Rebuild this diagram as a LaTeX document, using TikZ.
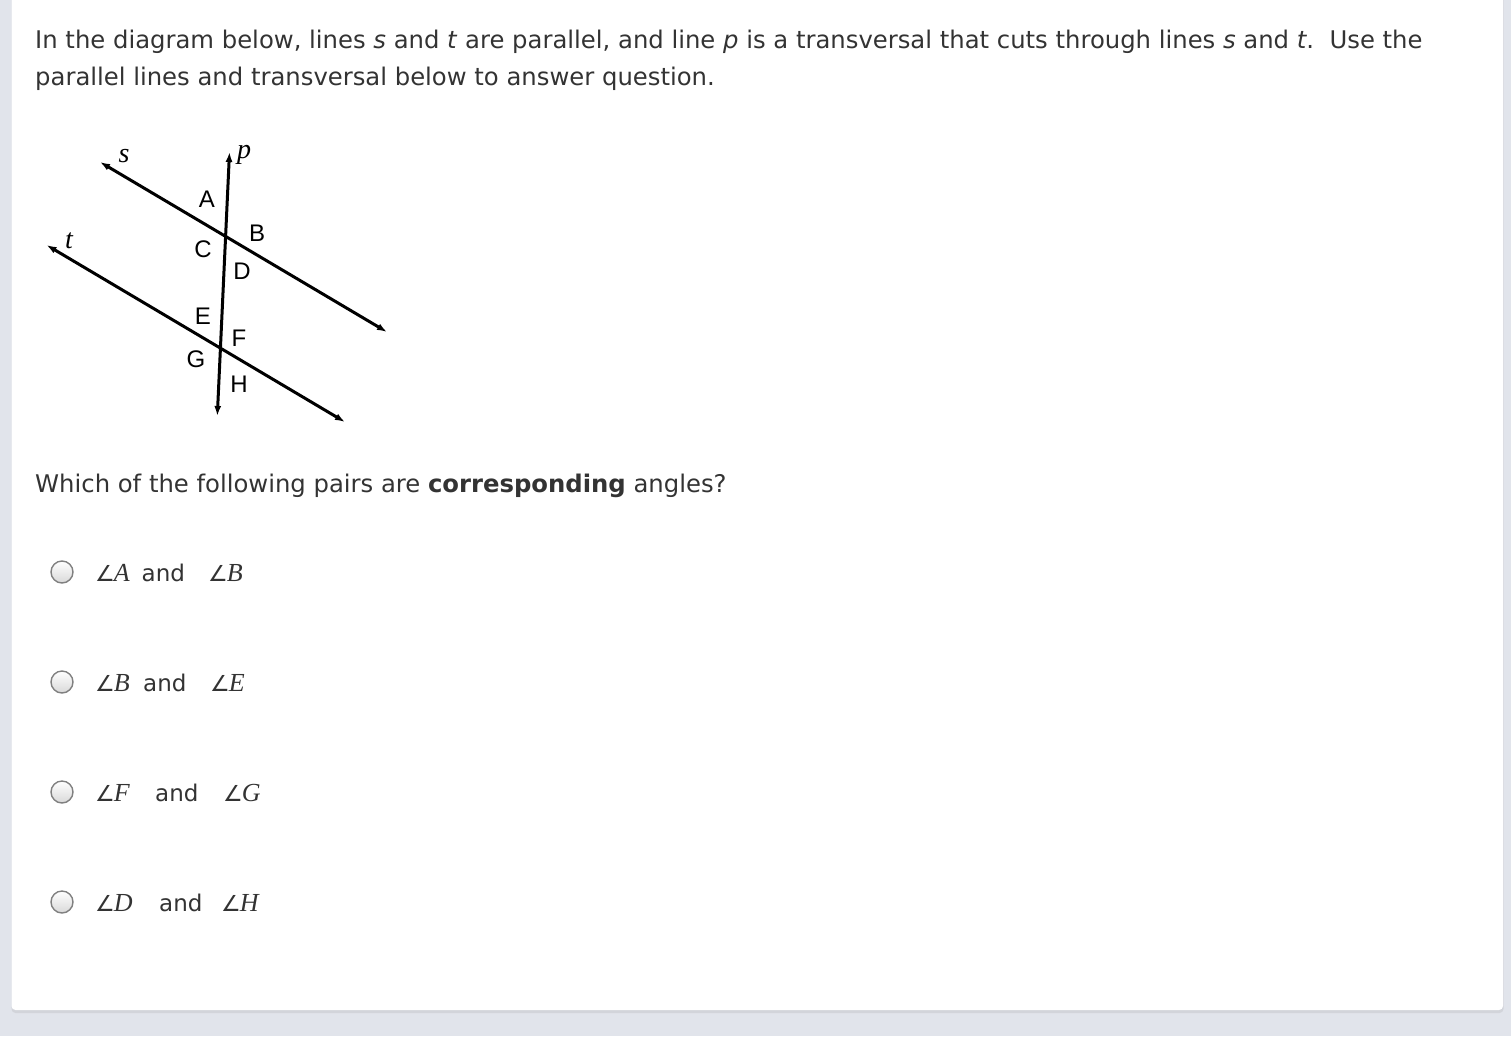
\documentclass[tikz,border=0pt]{standalone}
\usepackage{fontspec}
\usetikzlibrary{arrows.meta,shadings}
\setmainfont{DejaVu Sans}
\newfontfamily\symfont{DejaVu Sans}
\newfontfamily\lblfont{Liberation Sans}
\newfontfamily\serifit{Liberation Serif}[UprightFont=*,ItalicFont=* Italic]
\definecolor{pagebg}{RGB}{225,228,235}
\definecolor{txt}{RGB}{51,51,51}
\definecolor{shadowc}{RGB}{210,212,218}
\definecolor{radioedge}{RGB}{128,128,128}
\tikzset{
  body/.style={anchor=base west, inner sep=0pt, text=txt, font=\fontsize{24.3}{24.3}\selectfont},
  andtxt/.style={anchor=base west, inner sep=0pt, text=txt, font=\fontsize{23}{23}\selectfont},
  lbl/.style={inner sep=0pt, text=black, font=\lblfont\fontsize{24}{24}\selectfont},
  varlbl/.style={inner sep=0pt, text=black, font=\serifit\itshape\fontsize{28}{28}\selectfont},
  geoline/.style={line width=3pt, black, {Latex[length=10pt,width=7pt]}-{Latex[length=10pt,width=7pt]}},
  radio/.style={circle, minimum size=22pt, inner sep=0pt, draw=radioedge, line width=1.4pt, top color=white, bottom color=black!15},
  angtxt/.style={anchor=base west, inner sep=0pt, text=txt, font=\fontsize{26}{26}\selectfont}
}
\newcommand{\angl}[1]{{\symfont\fontsize{22}{22}\selectfont ∠}\kern-1pt{\serifit\itshape #1}}
\begin{document}
\begin{tikzpicture}[x=1pt,y=-1pt]
\useasboundingbox (0,0) rectangle (1511,1036);
\fill[pagebg] (0,0) rectangle (1511,1036);
\fill[shadowc, rounded corners=4pt] (11.5,-10) rectangle (1503.5,1013);
\fill[white, rounded corners=4pt] (11.5,-10) rectangle (1503,1010);

% header text
\node[body] (l1) at (35,48.5) {In the diagram below, lines \textit{s} and \textit{t} are parallel, and line \textit{p} is a transversal that cuts through lines \textit{s} and \textit{t}.\ \ Use the};
\node[body] (l2) at (35,85) {parallel lines and transversal below to answer question.};

% geometry
\coordinate (s1) at (100,162);
\coordinate (s2) at (387,332);
\coordinate (t1) at (46.5,245);
\coordinate (t2) at (345,422);
\coordinate (p1) at (229.5,152);
\coordinate (p2) at (217.3,416);
\draw[geoline] (s1) -- (s2);
\draw[geoline] (t1) -- (t2);
\draw[geoline] (p2) -- (p1);

\node[varlbl] (ls) at (124,156) {s};
\node[varlbl] (lp) at (244,155) {p};
\node[varlbl] (lt) at (69,241) {t};

\node[lbl] (A) at (207,199) {A};
\node[lbl] (B) at (257,233) {B};
\node[lbl] (C) at (203,249) {C};
\node[lbl] (D) at (242,271) {D};
\node[lbl] (E) at (203,316) {E};
\node[lbl] (F) at (239,338) {F};
\node[lbl] (G) at (196,359) {G};
\node[lbl] (H) at (239,384) {H};

% question
\node[body] (q) at (35,492.3) {Which of the following pairs are \textbf{corresponding} angles?};

% options
\node[radio] (r1) at (62,572) {};
\node[radio] (r2) at (62,682) {};
\node[radio] (r3) at (62,792) {};
\node[radio] (r4) at (62,902) {};

\node[angtxt] (o1a) at (95,581) {\angl{A}};
\node[andtxt] (o1b) at (141.5,581) {and};
\node[angtxt] (o1c) at (208,581) {\angl{B}};

\node[angtxt] (o2a) at (95,691) {\angl{B}};
\node[andtxt] (o2b) at (143,691) {and};
\node[angtxt] (o2c) at (210,691) {\angl{E}};

\node[angtxt] (o3a) at (95,801) {\angl{F}};
\node[andtxt] (o3b) at (155,801) {and};
\node[angtxt] (o3c) at (223,801) {\angl{G}};

\node[angtxt] (o4a) at (95,911) {\angl{D}};
\node[andtxt] (o4b) at (159,911) {and};
\node[angtxt] (o4c) at (221,911) {\angl{H}};
\end{tikzpicture}
\end{document}
